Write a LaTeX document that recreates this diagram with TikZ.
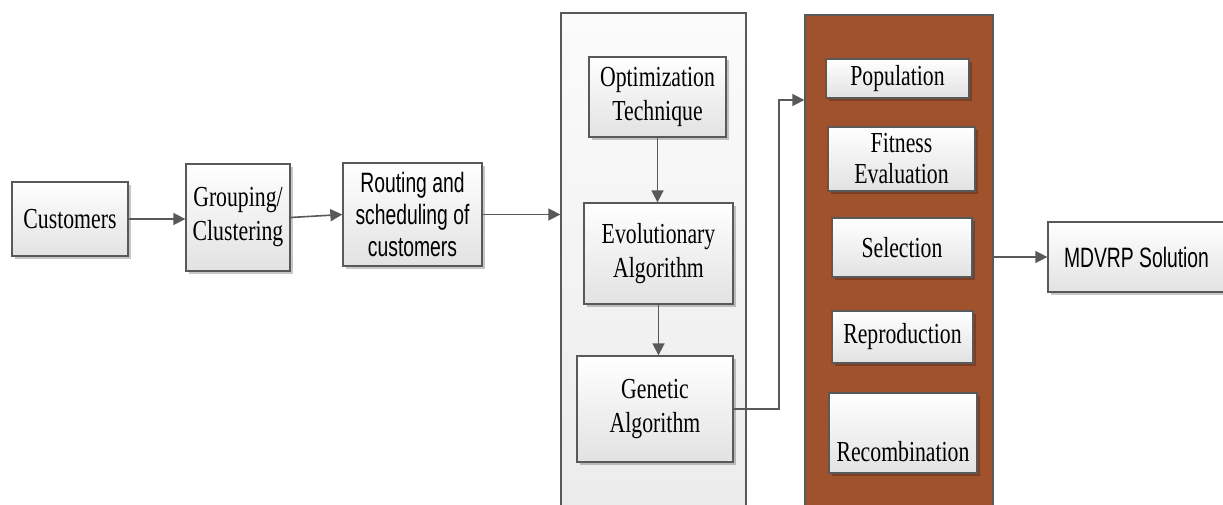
\documentclass[tikz,border=0pt]{standalone}
\usepackage{fontspec}
\setmainfont{Liberation Serif}[FakeStretch=0.75]
\newfontfamily\narrowsans{Liberation Sans}[FakeStretch=0.69]
\usetikzlibrary{arrows.meta,shadows,calc}

\definecolor{edge}{RGB}{89,89,89}
\definecolor{boxbot}{RGB}{226,226,226}
\definecolor{panelTop}{RGB}{251,251,251}
\definecolor{panelBot}{RGB}{234,234,234}
\definecolor{gabrown}{RGB}{160,82,45}

\tikzset{
  stepbox/.style={draw=edge, line width=1.3pt, top color=white, bottom color=boxbot,
    align=center, inner sep=0pt, font=\fontsize{29}{34}\selectfont,
    drop shadow={shadow xshift=2.5pt, shadow yshift=-2.5pt, fill=black, opacity=0.22}},
  sansbox/.style={stepbox, font=\narrowsans\fontsize{28}{32}\selectfont},
  panel/.style={draw=edge, line width=1.3pt, top color=panelTop, bottom color=panelBot},
  gapanel/.style={draw=edge, line width=1.3pt, fill=gabrown},
  arr/.style={draw=edge, line width=1.6pt, -{Triangle[length=12pt,width=12pt]}},
}

\begin{document}
\begin{tikzpicture}[x=1pt, y=-1pt]
  \useasboundingbox (0,0) rectangle (1223,504);
  \clip (0,0) rectangle (1223,504);

  % left chain
  \node[stepbox, minimum width=116pt, minimum height=74pt] (cust) at (70,219) {Customers};
  \node[stepbox, minimum width=104pt, minimum height=107pt] (grp) at (238,217.5) {Grouping/\\Clustering};
  \node[sansbox, minimum width=139pt, minimum height=103pt] (rout) at (412.5,214.5) {Routing and\\scheduling of\\customers};

  % optimisation panel
  \node[panel, minimum width=185pt, minimum height=547pt] (big) at (653.5,286.5) {};
  \node[stepbox, minimum width=137pt, minimum height=80pt] (opt) at (657.5,97) {Optimization\\Technique};
  \node[stepbox, minimum width=149pt, minimum height=101pt] (evol) at (658.5,253.5) {Evolutionary\\Algorithm};
  \node[stepbox, minimum width=156pt, minimum height=106pt] (gen) at (655,409) {Genetic\\Algorithm};

  % genetic algorithm panel
  \node[gapanel, minimum width=188pt, minimum height=545pt] (brown) at (899,287.5) {};
  \node[stepbox, minimum width=143pt, minimum height=39pt] (pop) at (897.5,78.5) {Population};
  \node[stepbox, minimum width=147pt, minimum height=64pt, font=\fontsize{29}{31}\selectfont] (fit) at (901.5,159) {Fitness\\Evaluation};
  \node[stepbox, minimum width=140pt, minimum height=59pt] (sel) at (902,247.5) {Selection};
  \node[stepbox, minimum width=141pt, minimum height=52pt] (rep) at (902.5,337) {Reproduction};
  \node[stepbox, minimum width=148pt, minimum height=80pt] (rec) at (903,433) {\strut\\Recombination};

  % result
  \node[sansbox, minimum width=177pt, minimum height=70pt] (sol) at (1136.5,257) {MDVRP Solution};

  % connectors
  \draw[arr] (cust.east) -- (cust.east -| grp.west);
  \draw[arr] (grp.east) -- (rout.west);
  \draw[arr] (rout.east) -- (rout.east -| big.west);
  \draw[arr] (opt.south) -- (opt.south |- evol.north);
  \draw[arr] (evol.south) -- (evol.south |- gen.north);
  \coordinate (bend) at (779,100);
  \draw[arr] (gen.east) -| (bend) -- (bend -| brown.west);
  \draw[arr] (sol.west -| brown.east) -- (sol.west);
\end{tikzpicture}
\end{document}
